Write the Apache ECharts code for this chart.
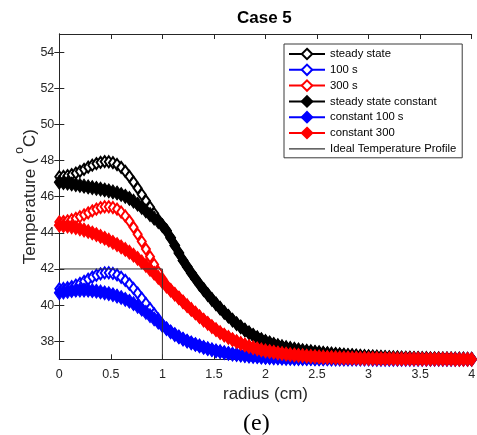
<!DOCTYPE html>
<html>
<head>
<meta charset="utf-8">
<script src="https://cdn.jsdelivr.net/npm/echarts@6/dist/echarts.min.js"></script>
<style>
  html, body { margin: 0; padding: 0; background: #fff; }
  #chart { width: 477px; height: 435px; }
</style>
</head>
<body>
<div id="chart"></div>
<script>
// Radial positions (cm) shared by every temperature profile
const radius = [
  0.00, 0.04, 0.08, 0.12, 0.16, 0.20, 0.24, 0.28, 0.32, 0.36,
  0.40, 0.44, 0.48, 0.52, 0.56, 0.60, 0.64, 0.68, 0.72, 0.76,
  0.80, 0.84, 0.88, 0.92, 0.96, 1.00, 1.04, 1.08, 1.12, 1.16,
  1.20, 1.24, 1.28, 1.32, 1.36, 1.40, 1.44, 1.48, 1.52, 1.56,
  1.60, 1.64, 1.68, 1.72, 1.76, 1.80, 1.84, 1.88, 1.92, 1.96,
  2.00, 2.04, 2.08, 2.12, 2.16, 2.20, 2.24, 2.28, 2.32, 2.36,
  2.40, 2.44, 2.48, 2.52, 2.56, 2.60, 2.64, 2.68, 2.72, 2.76,
  2.80, 2.84, 2.88, 2.92, 2.96, 3.00, 3.04, 3.08, 3.12, 3.16,
  3.20, 3.24, 3.28, 3.32, 3.36, 3.40, 3.44, 3.48, 3.52, 3.56,
  3.60, 3.64, 3.68, 3.72, 3.76, 3.80, 3.84, 3.88, 3.92, 3.96,
  4.00
];

// Temperatures (°C) along the radius
const steadyState = [
  47.10, 47.12, 47.16, 47.22, 47.30, 47.40, 47.51, 47.63, 47.74, 47.83,
  47.90, 47.94, 47.93, 47.88, 47.78, 47.62, 47.40, 47.12, 46.80, 46.47,
  46.12, 45.77, 45.42, 45.07, 44.72, 44.40, 44.12, 43.72, 43.30, 42.88,
  42.47, 42.12, 41.78, 41.46, 41.15, 40.86, 40.58, 40.32, 40.07, 39.83,
  39.60, 39.38, 39.17, 38.97, 38.79, 38.62, 38.47, 38.33, 38.20, 38.09,
  37.99, 37.91, 37.83, 37.76, 37.70, 37.65, 37.60, 37.56, 37.52, 37.48,
  37.45, 37.42, 37.39, 37.37, 37.34, 37.32, 37.30, 37.28, 37.26, 37.24,
  37.22, 37.21, 37.19, 37.18, 37.16, 37.15, 37.14, 37.13, 37.12, 37.11,
  37.10, 37.09, 37.09, 37.08, 37.07, 37.07, 37.06, 37.06, 37.05, 37.05,
  37.04, 37.04, 37.04, 37.03, 37.03, 37.03, 37.02, 37.02, 37.02, 37.01,
  37.01
];
const t100 = [
  40.90, 40.92, 40.96, 41.02, 41.10, 41.20, 41.31, 41.43, 41.55, 41.65,
  41.73, 41.78, 41.79, 41.75, 41.67, 41.54, 41.37, 41.16, 40.92, 40.66,
  40.38, 40.09, 39.80, 39.51, 39.22, 38.92, 38.71, 38.52, 38.37, 38.24,
  38.12, 38.01, 37.91, 37.82, 37.74, 37.66, 37.59, 37.53, 37.47, 37.42,
  37.37, 37.33, 37.29, 37.26, 37.23, 37.20, 37.18, 37.16, 37.14, 37.12,
  37.10, 37.09, 37.08, 37.07, 37.06, 37.05, 37.05, 37.04, 37.04, 37.03,
  37.03, 37.03, 37.02, 37.02, 37.02, 37.02, 37.01, 37.01, 37.01, 37.01,
  37.01, 37.01, 37.01, 37.01, 37.01, 37.01, 37.00, 37.00, 37.00, 37.00,
  37.00, 37.00, 37.00, 37.00, 37.00, 37.00, 37.00, 37.00, 37.00, 37.00,
  37.00, 37.00, 37.00, 37.00, 37.00, 37.00, 37.00, 37.00, 37.00, 37.00,
  37.00
];
const t300 = [
  44.60, 44.62, 44.66, 44.72, 44.80, 44.89, 44.99, 45.10, 45.21, 45.31,
  45.39, 45.44, 45.44, 45.40, 45.31, 45.15, 44.93, 44.65, 44.30, 43.92,
  43.52, 43.10, 42.68, 42.25, 41.83, 41.45, 41.10, 40.82, 40.60, 40.39,
  40.18, 39.97, 39.76, 39.56, 39.36, 39.17, 38.99, 38.81, 38.64, 38.48,
  38.34, 38.21, 38.09, 37.98, 37.88, 37.79, 37.71, 37.64, 37.58, 37.52,
  37.47, 37.43, 37.39, 37.35, 37.32, 37.29, 37.26, 37.24, 37.22, 37.20,
  37.18, 37.16, 37.15, 37.13, 37.12, 37.11, 37.10, 37.09, 37.08, 37.07,
  37.07, 37.06, 37.06, 37.05, 37.05, 37.04, 37.04, 37.04, 37.03, 37.03,
  37.03, 37.03, 37.02, 37.02, 37.02, 37.02, 37.02, 37.02, 37.01, 37.01,
  37.01, 37.01, 37.01, 37.01, 37.01, 37.01, 37.00, 37.00, 37.00, 37.00,
  37.00
];
const steadyConst = [
  46.80, 46.77, 46.74, 46.70, 46.66, 46.62, 46.58, 46.54, 46.50, 46.46,
  46.42, 46.37, 46.32, 46.26, 46.20, 46.12, 46.02, 45.90, 45.75, 45.58,
  45.40, 45.21, 45.01, 44.81, 44.62, 44.40, 44.12, 43.72, 43.30, 42.88,
  42.47, 42.12, 41.78, 41.46, 41.15, 40.86, 40.58, 40.32, 40.07, 39.83,
  39.60, 39.38, 39.17, 38.97, 38.79, 38.62, 38.47, 38.33, 38.20, 38.09,
  37.99, 37.91, 37.83, 37.76, 37.70, 37.65, 37.60, 37.56, 37.52, 37.48,
  37.45, 37.42, 37.39, 37.37, 37.34, 37.32, 37.30, 37.28, 37.26, 37.24,
  37.22, 37.21, 37.19, 37.18, 37.16, 37.15, 37.14, 37.13, 37.12, 37.11,
  37.10, 37.09, 37.09, 37.08, 37.07, 37.07, 37.06, 37.06, 37.05, 37.05,
  37.04, 37.04, 37.04, 37.03, 37.03, 37.03, 37.02, 37.02, 37.02, 37.01,
  37.01
];
const const100 = [
  40.68, 40.72, 40.76, 40.80, 40.82, 40.83, 40.83, 40.82, 40.80, 40.77,
  40.73, 40.68, 40.63, 40.57, 40.50, 40.42, 40.32, 40.21, 40.08, 39.93,
  39.77, 39.60, 39.42, 39.24, 39.05, 38.87, 38.69, 38.52, 38.37, 38.24,
  38.12, 38.01, 37.91, 37.82, 37.74, 37.66, 37.59, 37.53, 37.47, 37.42,
  37.37, 37.33, 37.29, 37.26, 37.23, 37.20, 37.18, 37.16, 37.14, 37.12,
  37.10, 37.09, 37.08, 37.07, 37.06, 37.05, 37.05, 37.04, 37.04, 37.03,
  37.03, 37.03, 37.02, 37.02, 37.02, 37.02, 37.01, 37.01, 37.01, 37.01,
  37.01, 37.01, 37.01, 37.01, 37.01, 37.01, 37.00, 37.00, 37.00, 37.00,
  37.00, 37.00, 37.00, 37.00, 37.00, 37.00, 37.00, 37.00, 37.00, 37.00,
  37.00, 37.00, 37.00, 37.00, 37.00, 37.00, 37.00, 37.00, 37.00, 37.00,
  37.00
];
const const300 = [
  44.42, 44.40, 44.37, 44.33, 44.28, 44.22, 44.15, 44.07, 43.99, 43.90,
  43.80, 43.70, 43.59, 43.47, 43.35, 43.22, 43.08, 42.93, 42.76, 42.58,
  42.39, 42.19, 41.98, 41.76, 41.53, 41.29, 41.04, 40.82, 40.60, 40.39,
  40.18, 39.97, 39.76, 39.56, 39.36, 39.17, 38.99, 38.81, 38.64, 38.48,
  38.34, 38.21, 38.09, 37.98, 37.88, 37.79, 37.71, 37.64, 37.58, 37.52,
  37.47, 37.43, 37.39, 37.35, 37.32, 37.29, 37.26, 37.24, 37.22, 37.20,
  37.18, 37.16, 37.15, 37.13, 37.12, 37.11, 37.10, 37.09, 37.08, 37.07,
  37.07, 37.06, 37.06, 37.05, 37.05, 37.04, 37.04, 37.04, 37.03, 37.03,
  37.03, 37.03, 37.02, 37.02, 37.02, 37.02, 37.02, 37.02, 37.01, 37.01,
  37.01, 37.01, 37.01, 37.01, 37.01, 37.01, 37.00, 37.00, 37.00, 37.00,
  37.00
];

// Ideal step profile: 42 °C inside 1 cm, 37 °C outside
const idealRadius = [0, 1, 1];
const idealTemp = [42, 42, 37];

// Axis ticks
const yTicks = [38, 40, 42, 44, 46, 48, 50, 52, 54];

const FONT = '"Liberation Sans", Arial, Helvetica, sans-serif';
const AXIS_COLOR = '#262626';

function pairs(xs, ys) {
  return xs.map((x, i) => [x, ys[i]]);
}

function markerSeries(name, values, color, open, z) {
  return {
    type: 'line',
    name: name,
    data: pairs(radius, values),
    symbol: 'diamond',
    symbolSize: open ? [8, 11] : [10, 14],
    showAllSymbol: true,
    clip: false,
    z: z,
    lineStyle: { color: color, width: 2.5 },
    itemStyle: open
      ? { color: '#fff', borderColor: color, borderWidth: 2 }
      : { color: color, borderColor: color, borderWidth: 1 },
    emphasis: { disabled: true },
    animation: false
  };
}

const chart = echarts.init(document.getElementById('chart'), null, { renderer: 'canvas' });

const axisLineStyle = { lineStyle: { color: AXIS_COLOR, width: 1 } };
const tickStyle = { inside: true, length: 5, lineStyle: { color: AXIS_COLOR, width: 1 } };

chart.setOption({
  backgroundColor: '#fff',
  animation: false,
  title: {
    text: 'Case 5',
    left: 237,
    top: 10,
    padding: 0,
    textStyle: { fontFamily: FONT, fontSize: 17, fontWeight: 'bold', color: '#000' }
  },
  grid: {
    left: 59.3, right: 5.3, top: 34, bottom: 75.7,
    containLabel: false,
    outerBoundsMode: 'none'
  },
  xAxis: [
    {
      type: 'value', min: 0, max: 4, interval: 0.5, position: 'bottom',
      name: 'radius (cm)', nameLocation: 'middle', nameGap: 27, nameMoveOverlap: false,
      nameTextStyle: { fontFamily: FONT, fontSize: 17, color: AXIS_COLOR },
      axisLine: axisLineStyle,
      axisTick: tickStyle,
      axisLabel: { fontFamily: FONT, fontSize: 12.5, color: AXIS_COLOR, margin: 9 },
      splitLine: { show: false }
    },
    {
      type: 'value', min: 0, max: 4, interval: 0.5, position: 'top',
      axisLine: axisLineStyle,
      axisTick: tickStyle,
      axisLabel: { show: false },
      splitLine: { show: false }
    }
  ],
  yAxis: [
    {
      type: 'value', min: 37, max: 55, position: 'left',
      name: '{t|Temperature ( }{s|o}{t|C)}', nameLocation: 'middle', nameGap: 20,
      nameMoveOverlap: false,
      nameTextStyle: {
        rich: {
          t: { fontFamily: FONT, fontSize: 17, color: AXIS_COLOR, lineHeight: 26, verticalAlign: 'bottom' },
          s: { fontFamily: FONT, fontSize: 12, color: AXIS_COLOR, lineHeight: 14, verticalAlign: 'top' }
        }
      },
      axisLine: axisLineStyle,
      axisTick: Object.assign({ customValues: yTicks }, tickStyle),
      axisLabel: { fontFamily: FONT, fontSize: 12.5, color: AXIS_COLOR, margin: 5, customValues: yTicks },
      splitLine: { show: false }
    },
    {
      type: 'value', min: 37, max: 55, position: 'right',
      axisLine: axisLineStyle,
      axisTick: Object.assign({ customValues: yTicks }, tickStyle),
      axisLabel: { show: false, customValues: yTicks },
      splitLine: { show: false }
    }
  ],
  legend: {
    orient: 'vertical',
    left: 284,
    top: 44,
    padding: [3, 6, 2, 4],
    itemWidth: 36,
    itemHeight: 13,
    itemGap: 1.8,
    backgroundColor: '#fff',
    borderColor: '#3a3a3a',
    borderWidth: 1,
    selectedMode: false,
    textStyle: { fontFamily: FONT, fontSize: 11.3, color: '#000', lineHeight: 14 },
    data: [
      'steady state', '100 s', '300 s',
      'steady state constant', 'constant 100 s', 'constant 300',
      { name: 'Ideal Temperature Profile', icon: 'path://M0,0L0,0M0,13L0,13M0,6h36v1.1h-36z' }
    ]
  },
  series: [
    markerSeries('steady state', steadyState, '#000000', true, 2),
    markerSeries('100 s', t100, '#0000ff', true, 3),
    markerSeries('300 s', t300, '#ff0000', true, 4),
    markerSeries('steady state constant', steadyConst, '#000000', false, 5),
    markerSeries('constant 100 s', const100, '#0000ff', false, 6),
    markerSeries('constant 300', const300, '#ff0000', false, 7),
    {
      type: 'line',
      name: 'Ideal Temperature Profile',
      data: pairs(idealRadius, idealTemp),
      symbol: 'none',
      z: 8,
      lineStyle: { color: '#333333', width: 1 },
      itemStyle: { color: '#333333' },
      emphasis: { disabled: true },
      animation: false
    }
  ],
  graphic: [
    {
      type: 'text',
      left: 243,
      top: 412,
      style: { text: '(e)', fontFamily: '"Liberation Serif", "Times New Roman", serif', fontSize: 24, fill: '#000' }
    }
  ]
});
</script>
</body>
</html>
